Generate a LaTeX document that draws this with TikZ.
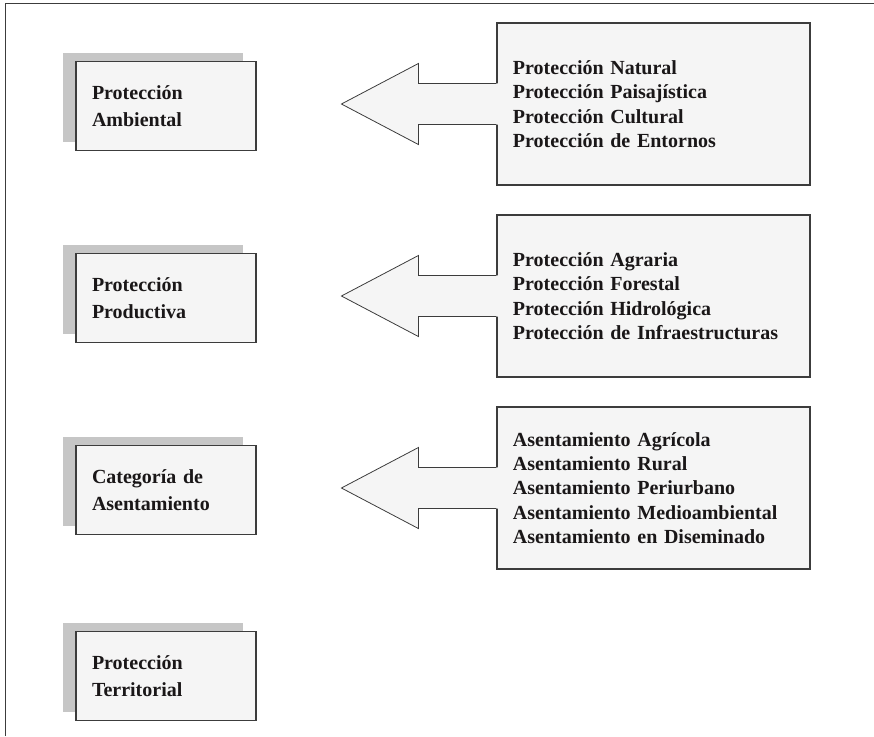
\documentclass[tikz,border=0pt]{standalone}
\usepackage{fontspec}
\setmainfont{Liberation Serif}
\usepackage{tikz}
\usetikzlibrary{calc,shadows}
\definecolor{cajagris}{HTML}{F5F5F5}
\definecolor{sombragris}{HTML}{C6C6C6}
\definecolor{bordegris}{HTML}{3C3C3C}
\definecolor{tinta}{HTML}{1A1718}
\tikzstyle{categoria} = [rectangle, draw=bordegris, line width=0.8pt, fill=cajagris, text=tinta, font=\bfseries\fontsize{15}{20.25}\selectfont, align=left, text width=111pt, inner xsep=12pt, minimum height=66.75pt, drop shadow={shadow xshift=-9.75pt, shadow yshift=6.5pt, fill=sombragris, opacity=1}]
\tikzstyle{lista} = [rectangle, draw=bordegris, line width=0.8pt, fill=cajagris, text=tinta, font=\bfseries\fontsize{15}{18.3}\selectfont, align=left, text width=210.75pt, inner xsep=12pt, minimum height=121.5pt]
\tikzstyle{flecha} = [draw=bordegris, line width=0.6pt, line join=miter]

\begin{document}
\begin{tikzpicture}[x=0.75pt,y=-0.75pt,node distance=144pt]
  \useasboundingbox (0,0) rectangle (874,736);
  \draw[line width=1.1pt, draw=bordegris] (5.5,736) -- (5.5,3.5) -- (874,3.5);

  \node[categoria] (C_amb) at (166,106) {Protección\\Ambiental};
  \node[categoria] (C_prod) [below of=C_amb] {Protección\\Productiva};
  \node[categoria] (C_asen) [below of=C_prod] {Categoría de\\Asentamiento};
  \node[categoria] (C_terr) [below of=C_asen, node distance=139.5pt] {Protección\\Territorial};

  \node[lista] (L_amb) [right of=C_amb, node distance=365.6pt, yshift=1.5pt] {Protección Natural\\Protección Paisajística\\Protección Cultural\\Protección de Entornos};
  \node[lista] (L_prod) [right of=C_prod, node distance=365.6pt, yshift=1.5pt] {Protección Agraria\\Protección Forestal\\Protección Hidrológica\\Protección de Infraestructuras};
  \node[lista] (L_asen) [right of=C_asen, node distance=365.6pt, yshift=1.5pt] {Asentamiento Agrícola\\Asentamiento Rural\\Asentamiento Periurbano\\Asentamiento Medioambiental\\Asentamiento en Diseminado};

  % flechas hacia la izquierda
  \foreach \n in {L_amb,L_prod,L_asen} {
    \fill[cajagris] ($(\n.west)+(1pt,15.4pt)$) -- ($(\n.west)+(-58.5pt,15.4pt)$) -- ($(\n.west)+(-58.5pt,30.4pt)$) -- ($(\n.west)+(-116.25pt,0)$) -- ($(\n.west)+(-58.5pt,-30.4pt)$) -- ($(\n.west)+(-58.5pt,-15.4pt)$) -- ($(\n.west)+(1pt,-15.4pt)$) -- cycle;
    \draw[flecha] ($(\n.west)+(0,15.4pt)$) -- ($(\n.west)+(-58.5pt,15.4pt)$) -- ($(\n.west)+(-58.5pt,30.4pt)$) -- ($(\n.west)+(-116.25pt,0)$) -- ($(\n.west)+(-58.5pt,-30.4pt)$) -- ($(\n.west)+(-58.5pt,-15.4pt)$) -- ($(\n.west)+(0,-15.4pt)$);
  }
\end{tikzpicture}
\end{document}
